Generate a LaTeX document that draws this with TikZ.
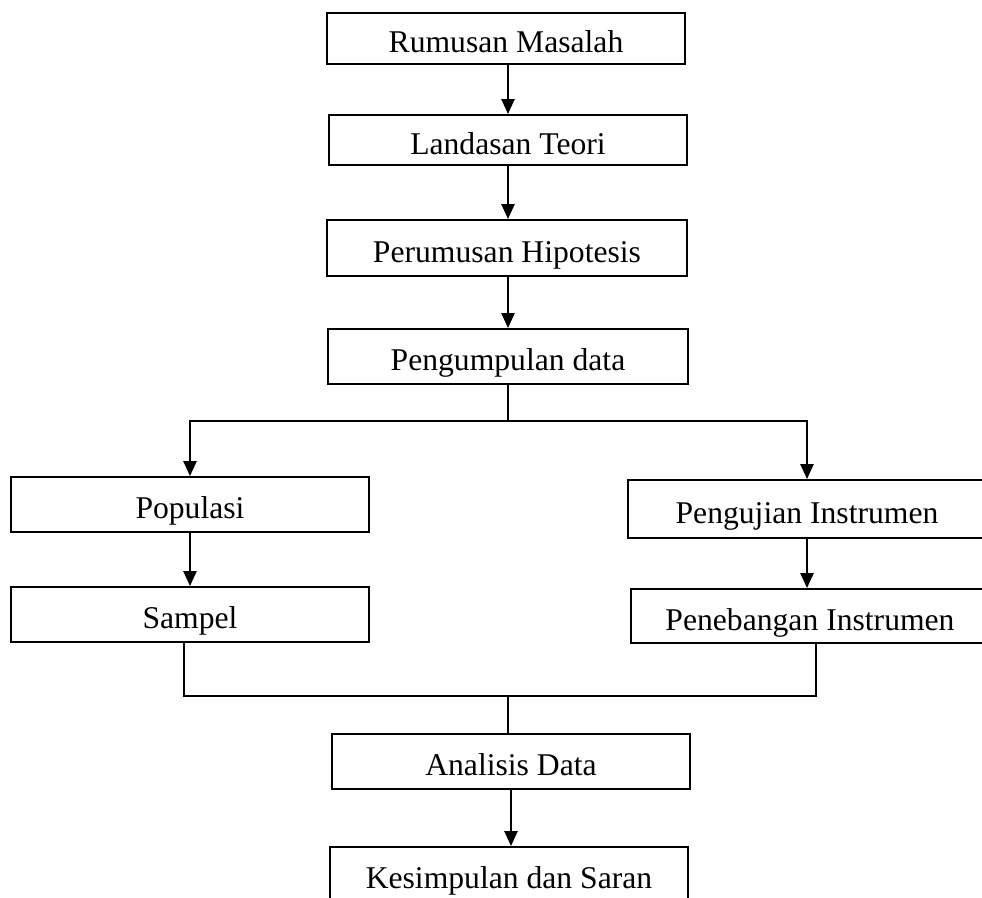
\documentclass[tikz,border=0pt]{standalone}
\usepackage{fontspec}
\setmainfont{Liberation Serif}
\usepackage{tikz}
\usetikzlibrary{arrows.meta,positioning,calc}
\tikzset{
  box/.style={draw, line width=1.4pt, minimum height=1.375cm, minimum width=8.95cm,
              align=center, font=\fontsize{22.5}{27}\selectfont, fill=white, inner sep=0pt,
              text height=22pt, text depth=1.5pt},
  edge/.style={-{Triangle[length=0.375cm, width=0.33cm]}, line width=1.4pt},
  link/.style={line width=1.4pt}
}

\begin{document}
\begin{tikzpicture}[x=0.025cm, y=-0.025cm]
  \useasboundingbox (0,0) rectangle (982,897);
  % main column
  \node[box, minimum height=1.275cm, minimum width=8.925cm] (rumusan) at (506,38.5) {Rumusan Masalah};
  \node[box, minimum height=1.25cm] (landasan) at (508,140) {Landasan Teori};
  \node[box, minimum height=1.4cm, minimum width=9cm] (hipotesis) at (507,248) {Perumusan Hipotesis};
  \node[box, minimum width=8.975cm] (kumpul) at (508,356.5) {Pengumpulan data};
  % two branches
  \node[box] (populasi) at (190,504.5) {Populasi};
  \node[box] (sampel) at (190,614.5) {Sampel};
  \node[box, minimum height=1.45cm] (uji) at (807,509) {Pengujian Instrumen};
  \node[box, minimum height=1.35cm] (tebang) at (810,616) {Penebangan Instrumen};
  % end
  \node[box] (analisis) at (511,761.5) {Analisis Data};
  \node[box] (simpulan) at (509,874.5) {Kesimpulan dan Saran};

  \coordinate (split) at (508,421);
  \coordinate (merge) at (508,696);

  \draw[edge] (rumusan.south -| landasan) -- (landasan.north);
  \draw[edge] (landasan.south) -- (landasan.south |- hipotesis.north);
  \draw[edge] (hipotesis.south -| kumpul) -- (kumpul.north);
  \draw[link] (kumpul.south) -- (split);
  \draw[edge] (split) -| (populasi.north);
  \draw[edge] (split) -| (uji.north);
  \draw[edge] (populasi) -- (sampel);
  \draw[edge] (uji.south) -- (uji.south |- tebang.north);
  \draw[link] ([xshift=-4]sampel.south) |- (merge) -| ([xshift=4]tebang.south);
  \draw[link] (merge) -- (merge |- analisis.north);
  \draw[edge] (analisis.south) -- (analisis.south |- simpulan.north);
\end{tikzpicture}
\end{document}
